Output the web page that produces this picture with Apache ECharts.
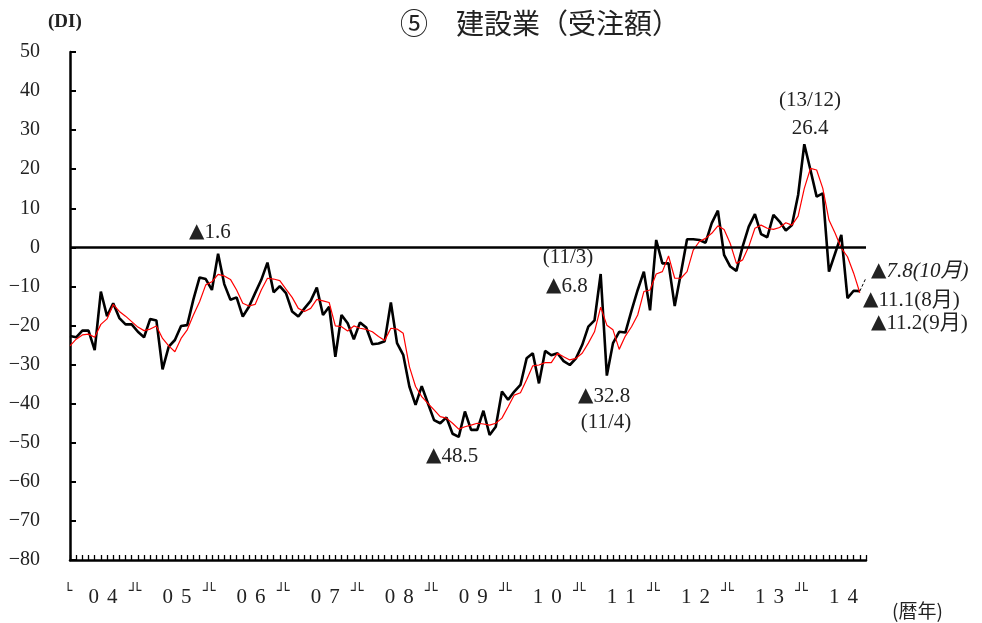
<!DOCTYPE html>
<html>
<head>
<meta charset="utf-8">
<script src="https://cdn.jsdelivr.net/npm/echarts@6/dist/echarts.min.js"></script>
<style>
html,body{margin:0;padding:0;background:#fff;}
#chart{width:982px;height:623px;}
</style>
</head>
<body>
<div id="chart"></div>
<script>
// Months 2004/1 .. 2014/10
const months = [];
for (let y = 2004; y <= 2014; y++) {
  for (let m = 1; m <= 12; m++) {
    if (y === 2014 && m > 10) break;
    months.push(y + '/' + m);
  }
}
// Monthly DI (black line), 2004/1 .. 2014/9
const diMonthly = [
  -22.7, -23.0, -21.3, -21.3, -26.3, -11.3, -17.6, -14.3, -18.1, -19.7, -19.7, -21.6,
  -23.0, -18.3, -18.7, -31.2, -25.4, -23.7, -20.1, -19.9, -13.3, -7.7, -8.1, -10.9,
  -1.6, -9.4, -13.4, -12.8, -17.7, -15.2, -11.7, -8.3, -3.9, -11.5, -9.9, -11.7,
  -16.4, -17.7, -15.6, -13.7, -10.3, -17.3, -15.2, -28.0, -17.3, -19.4, -23.5, -19.2,
  -20.5, -24.8, -24.6, -24.0, -14.1, -24.5, -27.5, -35.6, -40.3, -35.5, -39.9, -44.2,
  -45.0, -43.5, -47.7, -48.5, -42.0, -46.7, -46.7, -41.8, -48.0, -45.9, -36.9, -39.0,
  -36.9, -35.2, -28.4, -27.1, -34.8, -26.5, -27.6, -27.1, -29.1, -30.1, -28.4, -25.0,
  -20.3, -18.7, -6.8, -32.8, -24.5, -21.6, -21.8, -16.2, -10.9, -6.2, -16.1, 1.9,
  -4.1, -4.1, -15.0, -6.6, 2.1, 2.1, 1.9, 1.2, 6.2, 9.4, -1.9, -4.9,
  -6.0, 0.2, 5.3, 8.5, 3.4, 2.6, 8.3, 6.6, 4.3, 5.7, 13.4, 26.4,
  19.8, 13.0, 13.8, -6.2, -1.5, 3.2, -13.0, -11.1, -11.2
];
// Moving average (red line)
const diAverage = [
  -25.2, -23.5, -22.4, -22.2, -23.0, -19.7, -18.3, -14.6, -16.4, -17.6, -19.0, -20.4,
  -21.3, -20.9, -20.1, -23.3, -25.2, -26.7, -23.3, -21.1, -17.3, -13.9, -9.6, -8.8,
  -6.9, -7.3, -8.2, -10.9, -14.3, -15.0, -14.6, -10.9, -7.9, -8.1, -8.5, -10.7,
  -12.8, -15.6, -16.4, -15.6, -13.3, -13.7, -14.1, -20.1, -20.3, -21.4, -20.1, -20.7,
  -21.0, -21.6, -22.8, -23.8, -20.7, -20.9, -22.0, -30.5, -35.6, -38.2, -39.9, -41.6,
  -43.3, -43.7, -45.0, -46.5, -45.9, -45.5, -45.0, -45.2, -45.5, -45.0, -43.7, -40.8,
  -37.8, -37.2, -33.9, -30.3, -30.1, -29.5, -29.5, -27.1, -28.0, -28.8, -28.4, -27.1,
  -24.5, -21.6, -15.3, -19.9, -21.1, -26.1, -22.7, -20.3, -17.3, -11.3, -10.9, -6.8,
  -6.2, -2.2, -7.9, -7.9, -6.2, -0.7, 1.5, 2.3, 3.6, 5.5, 4.6, 1.0,
  -4.1, -3.2, 0.2, 4.9, 5.7, 4.9, 4.6, 5.1, 6.3, 5.7, 8.0, 15.1,
  20.2, 19.8, 15.1, 7.0, 3.6, -0.2, -2.4, -6.6, -11.6
];
// Forecast (dashed): 2014/9 actual -> 2014/10 forecast
const forecastMonths = ['2014/9', '2014/10'];
const forecastValues = [-11.2, -7.8];
const yearTicks = ['04','05','06','07','08','09','10','11','12','13','14'];

const forecastSeries = months.map(m => {
  const k = forecastMonths.indexOf(m);
  return k >= 0 ? forecastValues[k] : null;
});

const SERIF = '"Liberation Serif", "DejaVu Serif", "Noto Sans CJK JP", serif';
const CJK = '"Noto Sans CJK JP", sans-serif';
const TXT = '#222';

const chart = echarts.init(document.getElementById('chart'), null, {renderer: 'canvas'});

function txt(text, x, y, align, italic) {
  return {
    type: 'text',
    z: 100,
    style: {
      text: text, x: x, y: y,
      fontFamily: SERIF, fontSize: 21,
      fontStyle: italic ? 'italic' : 'normal',
      fill: TXT,
      align: align || 'left',
      verticalAlign: 'middle',
      textAlign: align || 'left',
      textVerticalAlign: 'middle',
      rich: {
        t: {fontFamily: '"DejaVu Sans"', fontSize: 20, fill: TXT, color: TXT},
        i: {fontFamily: SERIF, fontSize: 21, fontStyle: 'italic', fill: TXT, color: TXT}
      }
    }
  };
}

const option = {
  animation: false,
  backgroundColor: '#fff',
  grid: {left: 70, right: 116, top: 52, bottom: 63, containLabel: false, outerBoundsMode: 'none'},
  xAxis: {
    type: 'category',
    data: months,
    boundaryGap: false,
    axisLine: {show: true, onZero: false, lineStyle: {color: '#000', width: 2.5}},
    axisTick: {show: true, inside: true, interval: 0, length: 5, lineStyle: {color: '#000', width: 1.3}},
    axisLabel: {
      show: true,
      margin: 22,
      interval: function (idx) { return idx % 12 === 0 || idx % 12 === 6 || idx % 12 === 11; },
      formatter: function (val, idx) {
        if (idx === 0) return '{f|└}';
        if (idx % 12 === 11) return '{r|┘}';
        if (idx % 12 === 0) return '{l|└}';
        const y = yearTicks[Math.floor(idx / 12)];
        return '{d|' + y[0] + '}{e|' + y[1] + '}';
      },
      rich: {
        d: {fontFamily: SERIF, fontSize: 21, color: TXT, padding: [5, 0, 0, 0]},
        e: {fontFamily: SERIF, fontSize: 21, color: TXT, padding: [5, 8, 0, 8]},
        f: {fontFamily: '"DejaVu Sans"', fontSize: 14, color: TXT, padding: [2, 4, 0, 0]},
        r: {fontFamily: '"DejaVu Sans"', fontSize: 14, color: TXT, padding: [2, 10, 0, 0]},
        l: {fontFamily: '"DejaVu Sans"', fontSize: 14, color: TXT, padding: [2, 14, 0, 0]}
      }
    },
    splitLine: {show: false}
  },
  yAxis: {
    type: 'value',
    min: -80, max: 50, interval: 10,
    axisLine: {show: true, lineStyle: {color: '#000', width: 2.5}},
    axisTick: {show: true, inside: true, length: 6, lineStyle: {color: '#000', width: 2}},
    axisLabel: {
      margin: 30,
      fontFamily: SERIF, fontSize: 20, color: TXT,
      formatter: function (v) { return v < 0 ? '\u2212' + Math.abs(v) : String(v); }
    },
    splitLine: {show: false}
  },
  series: [
    {
      name: 'DI',
      type: 'line',
      data: diMonthly,
      symbol: 'none',
      lineStyle: {color: '#000', width: 2.6},
      z: 3,
      markLine: {
        silent: true,
        symbol: ['none', 'none'],
        label: {show: false},
        lineStyle: {color: '#000', width: 2.5, type: 'solid'},
        data: [{yAxis: 0}]
      }
    },
    {
      name: 'avg',
      type: 'line',
      data: diAverage,
      symbol: 'none',
      lineStyle: {color: '#ff0000', width: 1.2},
      z: 4
    },
    {
      name: 'forecast',
      type: 'line',
      data: forecastSeries,
      symbol: 'none',
      connectNulls: false,
      lineStyle: {color: '#000', width: 1, type: [3, 2]},
      z: 4
    }
  ],
  graphic: [
    {
      type: 'text',
      style: {
        text: '⑤　建設業（受注額）', x: 540, y: 23,
        font: '28px ' + CJK, fill: TXT,
        textAlign: 'center', textVerticalAlign: 'middle'
      }
    },
    {
      type: 'text',
      style: {text: '(DI)', x: 48, y: 22, font: 'bold 19px ' + SERIF, fill: TXT, textAlign: 'left', textVerticalAlign: 'middle'}
    },
    {
      type: 'text',
      style: {text: '(暦年)', x: 892, y: 611, font: '19px ' + CJK, fill: TXT, textAlign: 'left', textVerticalAlign: 'middle'}
    },
    txt('{t|▲}1.6', 189, 232),
    txt('(13/12)', 810, 100, 'center'),
    txt('26.4', 810, 128, 'center'),
    txt('(11/3)', 568, 257, 'center'),
    txt('{t|▲}6.8', 546, 286),
    txt('{t|▲}32.8', 578, 396),
    txt('(11/4)', 606, 422, 'center'),
    txt('{t|▲}48.5', 426, 456),
    txt('{t|▲}{i|7.8(10月)}', 871, 271, 'left', true),
    txt('{t|▲}11.1(8月)', 863, 300),
    txt('{t|▲}11.2(9月)', 871, 323)
  ]
};
chart.setOption(option);
</script>
</body>
</html>
